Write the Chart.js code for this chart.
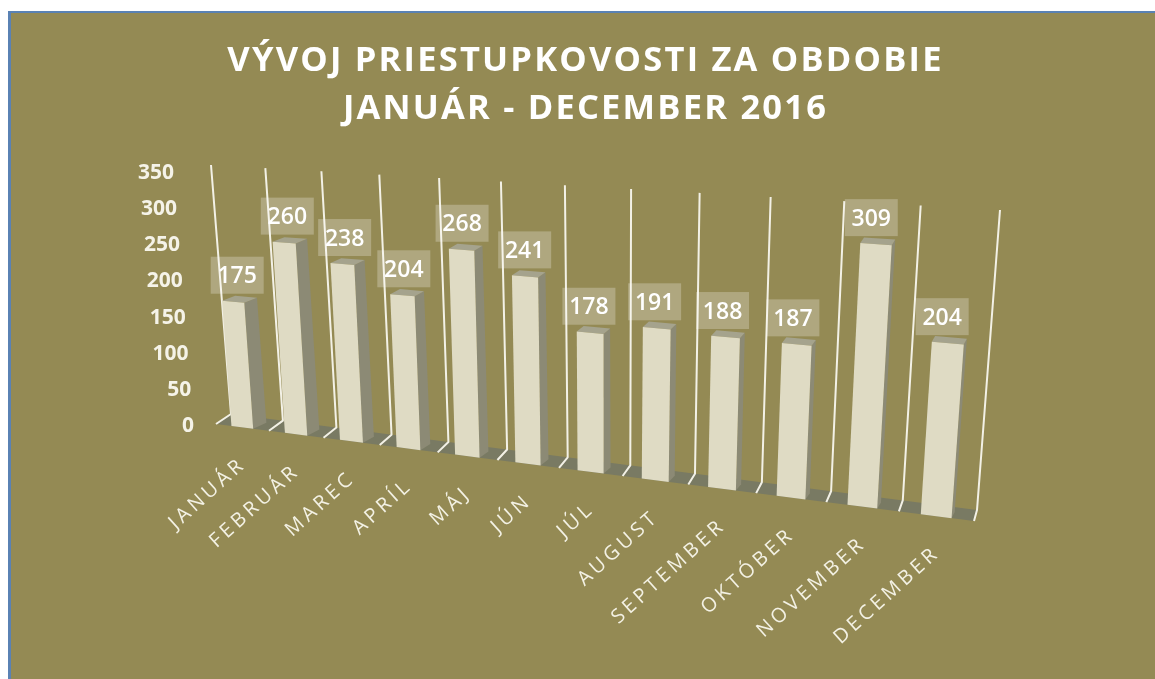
<!DOCTYPE html>
<html>
<head>
<meta charset="utf-8">
<style>html,body{margin:0;padding:0;background:#fff}canvas{display:block}</style>
<script src="https://cdn.jsdelivr.net/npm/chart.js@4/dist/chart.umd.js"></script>
</head>
<body>
<canvas id="c" width="1155" height="679"></canvas>
<script>
const titleLines = ['VÝVOJ PRIESTUPKOVOSTI ZA OBDOBIE', 'JANUÁR - DECEMBER 2016'];
const categories = ['JANUÁR','FEBRUÁR','MAREC','APRÍL','MÁJ','JÚN','JÚL','AUGUST','SEPTEMBER','OKTÓBER','NOVEMBER','DECEMBER'];
const offences = [175,260,238,204,268,241,178,191,188,187,309,204];

/* Perspective: corners of the planes on screen (TL, TR, BR, BL) */
const wallQuad  = [[211,165],[1000,210],[977,510],[231,414]];
const frontQuad = [[196,168],[997,214],[974,521],[216,424]];
const backQuad  = [[209,164],[1000,208],[977,515],[230,418]];

function homography(q){
  const [[x0,y0],[x1,y1],[x2,y2],[x3,y3]] = q;
  const dx1=x1-x2, dx2=x3-x2, sx=x0-x1+x2-x3, dy1=y1-y2, dy2=y3-y2, sy=y0-y1+y2-y3;
  const den=dx1*dy2-dx2*dy1, g=(sx*dy2-dx2*sy)/den, h=(dx1*sy-sx*dy1)/den;
  const a=x1-x0+g*x1, b=x3-x0+h*x3, d=y1-y0+g*y1, e=y3-y0+h*y3;
  return (u,v)=>{const w=g*u+h*v+1; return [(a*u+b*v+x0)/w,(d*u+e*v+y0)/w];};
}
const Hw=homography(wallQuad), Hf=homography(frontQuad), Hb=homography(backQuad);
function proj(H,area,x,y){return H((x-area.left)/area.width,(y-area.top)/area.height);}
function poly(ctx,pts,fill){ctx.beginPath();pts.forEach((p,i)=>i?ctx.lineTo(p[0],p[1]):ctx.moveTo(p[0],p[1]));ctx.closePath();ctx.fillStyle=fill;ctx.fill();}
function spaced(obj,method,ctx,sp){
  const orig=obj[method];
  obj[method]=function(){const prev=ctx.letterSpacing;ctx.letterSpacing=sp;const r=orig.apply(this,arguments);ctx.letterSpacing=prev;return r;};
}

const perspective = {
  id:'perspective',
  beforeDraw(chart){
    const ctx=chart.ctx, a=chart.chartArea;
    ctx.save();
    ctx.fillStyle='#5A82B4'; ctx.fillRect(8,11,1147,668);
    ctx.fillStyle='#948A54'; ctx.fillRect(11,13,1144,666);
    ctx.restore();
    if(!chart.$spaced){
      chart.$spaced=true;
      spaced(chart.titleBlock,'draw',ctx,'2.2px');
      spaced(chart.scales.x,'drawLabels',ctx,'3.9px');
    }
    const xs=chart.scales.x, ys=chart.scales.y;
    xs.getLabelItems(a).forEach((it,i)=>{
      const p=proj(Hf,a,xs.getPixelForTick(i),a.bottom);
      it.textOffset=0;
      it.options.translation=[p[0]+1,p[1]+34];
      it.options.textAlign='right';
      it.options.textBaseline='middle';
    });
    ys.getLabelItems(a).forEach((it,i)=>{
      const y=ys.getPixelForTick(i);
      it.options.translation=[proj(Hw,a,a.left,y)[0]-37,y+2];
    });
  },
  beforeDatasetsDraw(chart){
    const ctx=chart.ctx,a=chart.chartArea,xs=chart.scales.x;
    ctx.save();
    poly(ctx,[frontQuad[3],frontQuad[2],wallQuad[2],wallQuad[3]],'#797A63');
    const half=(xs.getPixelForTick(1)-xs.getPixelForTick(0))/2;
    ctx.strokeStyle='#F3F1E6'; ctx.lineWidth=2; ctx.lineJoin='round';
    for(let i=0;i<=categories.length;i++){
      const x=i<categories.length?xs.getPixelForTick(i)-half:xs.getPixelForTick(i-1)+half;
      const t=proj(Hw,a,x,a.top), b=proj(Hw,a,x,a.bottom), f=proj(Hf,a,x,a.bottom);
      ctx.beginPath();ctx.moveTo(t[0],t[1]);ctx.lineTo(b[0],b[1]);ctx.lineTo(f[0],f[1]);ctx.stroke();
    }
    ctx.restore();
  },
  beforeDatasetDraw(chart,args){
    const ctx=chart.ctx,a=chart.chartArea;
    const meta=chart.getDatasetMeta(args.index);
    ctx.save();
    meta.data.forEach(el=>{
      const L=el.x-el.width/2,R=el.x+el.width/2;
      const ftl=proj(Hf,a,L,el.y),ftr=proj(Hf,a,R,el.y),fbr=proj(Hf,a,R,el.base),fbl=proj(Hf,a,L,el.base);
      const btl=proj(Hb,a,L,el.y),btr=proj(Hb,a,R,el.y),bbr=proj(Hb,a,R,el.base);
      poly(ctx,[ftr,btr,bbr,fbr],'#8C8A75');
      poly(ctx,[ftl,ftr,btr,btl],'#A5A38D');
      poly(ctx,[ftl,ftr,fbr,fbl],'#DFDBC4');
    });
    ctx.restore();
    return false;
  },
  afterDatasetsDraw(chart){
    const ctx=chart.ctx,a=chart.chartArea;
    const meta=chart.getDatasetMeta(0);
    ctx.save();
    ctx.textAlign='center';ctx.textBaseline='middle';
    meta.data.forEach((el,i)=>{
      const p=proj(Hf,a,el.x,el.y);
      const u=(el.x-a.left)/a.width;
      const cx=p[0]+4.5-10.5*u, bot=p[1]-8;
      ctx.fillStyle='rgba(255,255,255,0.25)';
      ctx.fillRect(cx-26.5,bot-37,53,37);
      ctx.fillStyle='#FFFFFF';
      ctx.font='600 23px "Open Sans"';
      ctx.fillText(String(offences[i]),cx,bot-17);
    });
    ctx.restore();
  }
};

new Chart(document.getElementById('c'),{
  type:'bar',
  data:{labels:categories,datasets:[{data:offences,backgroundColor:'#DFDBC4',categoryPercentage:0.41,barPercentage:1}]},
  plugins:[perspective],
  options:{
    responsive:false,animation:false,
    layout:{padding:{left:16,right:0,top:0,bottom:0}},
    plugins:{
      legend:{display:false},tooltip:{enabled:false},
      title:{display:true,text:titleLines,color:'#FFFFFF',align:'center',
        font:{family:'"Open Sans"',size:34.5,weight:'bold',lineHeight:48/34.5},
        padding:{top:37,bottom:38}}
    },
    scales:{
      x:{
        grid:{display:false},border:{display:false},
        ticks:{autoSkip:false,minRotation:42,maxRotation:42,color:'#F3F1E4',font:{family:'"Open Sans"',size:20}},
        afterFit(s){s.height=255;}
      },
      y:{
        min:0,max:350,
        grid:{display:false},border:{display:false},
        ticks:{stepSize:50,color:'#F5F3E8',font:{family:'"Open Sans"',size:21,weight:'bold'}},
        afterFit(s){s.width=200;}
      }
    }
  }
});
</script>
</body>
</html>
